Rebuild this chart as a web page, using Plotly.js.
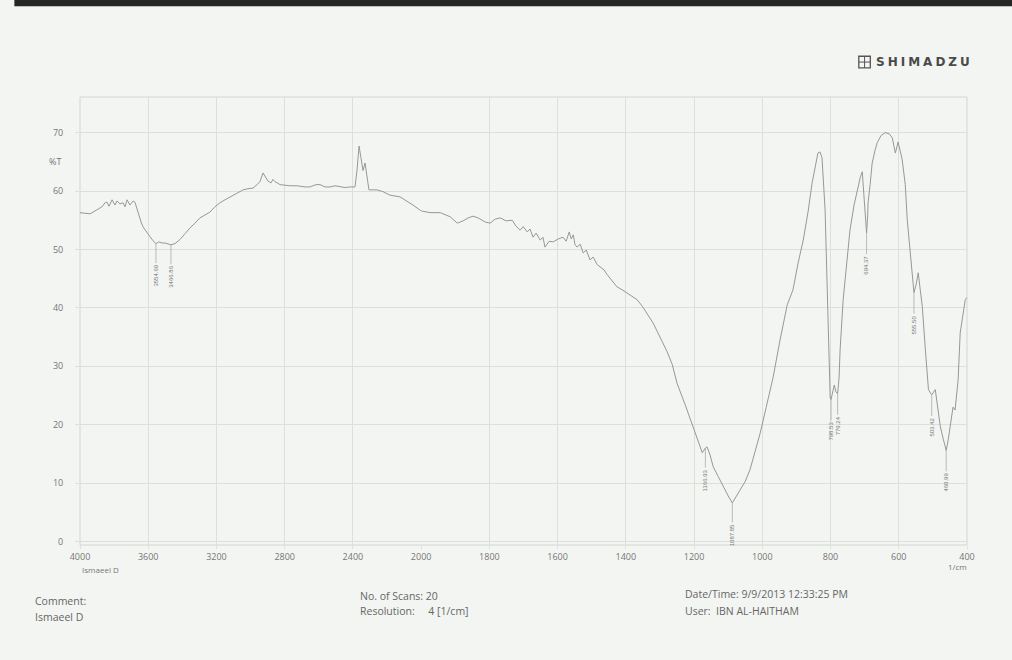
<!DOCTYPE html>
<html>
<head>
<meta charset="utf-8">
<script src="https://cdn.plot.ly/plotly-3.0.1.min.js"></script>
<style>
  html, body { margin: 0; padding: 0; background: #f3f5f2; }
  #chart { width: 1012px; height: 660px; }
</style>
</head>
<body>
<div id="chart"></div>
<script>
// FTIR transmittance spectrum, %T against wavenumber (1/cm).
// The 4000-2000 band and the 2000-400 band are drawn on two x axes
// so that the lower band gets twice the scale per wavenumber.

// 4000 - 2000 1/cm
const wnHigh = [4000, 3941, 3900, 3871, 3853, 3842, 3830, 3812, 3795, 3783, 3766, 3748, 3736, 3724,
  3707, 3689, 3678, 3660, 3642, 3631, 3607, 3590, 3572, 3554.69, 3537, 3519, 3502, 3484, 3466.86,
  3443, 3414, 3384, 3355, 3326, 3297, 3267, 3238, 3209, 3179, 3150, 3121, 3080, 3044, 3015, 2986,
  2962, 2945, 2927, 2909, 2898, 2880, 2869, 2857, 2827, 2769, 2728, 2681, 2652, 2616, 2593, 2564,
  2534, 2505, 2476, 2447, 2417, 2388, 2376, 2364, 2353, 2341, 2329, 2317, 2306, 2282, 2259, 2224,
  2183, 2124, 2083, 2048, 2000];
const tHigh = [56.3, 56.1, 56.8, 57.3, 58.0, 58.1, 57.4, 58.5, 57.6, 58.3, 57.8, 58.0, 57.3, 58.5,
  57.6, 58.3, 58.1, 56.3, 54.7, 53.9, 52.8, 52.2, 51.5, 51.0, 51.3, 51.1, 51.1, 50.9, 50.8,
  51.0, 51.7, 52.7, 53.7, 54.5, 55.4, 55.9, 56.4, 57.3, 58.0, 58.5, 59.0, 59.7, 60.2, 60.4, 60.5,
  61.1, 61.6, 63.1, 62.2, 61.7, 61.4, 62.0, 61.6, 61.1, 60.9, 60.9, 60.7, 60.7, 61.1, 61.1, 60.7,
  60.7, 60.9, 60.7, 60.6, 60.7, 60.7, 63.6, 67.7, 65.7, 63.5, 64.8, 61.9, 60.2, 60.2, 60.2, 59.9,
  59.3, 59.0, 58.3, 57.6, 56.6];

// 2000 - 400 1/cm
const wnLow = [2000, 1974, 1944, 1915, 1894, 1877, 1862, 1848, 1833, 1812, 1798, 1783, 1768, 1751,
  1733, 1722, 1710, 1701, 1689, 1681, 1672, 1663, 1651, 1643, 1637, 1625, 1613, 1598, 1584, 1575,
  1566, 1560, 1554, 1549, 1543, 1534, 1525, 1516, 1505, 1496, 1484, 1475, 1464, 1455, 1440, 1426,
  1411, 1396, 1382, 1367, 1352, 1338, 1320, 1300, 1279, 1264, 1250, 1226, 1203, 1188, 1176,
  1166.93, 1162, 1153, 1144, 1129, 1115, 1100, 1087.85, 1077, 1065, 1050, 1036, 1021, 1006, 989,
  968, 948, 927, 910, 895, 880, 866, 854, 845, 837, 831, 825, 816, 810, 807, 804, 801, 798.53, 792,
  789, 784, 779.24, 775, 772, 763, 754, 743, 731, 722, 713, 707, 704, 701, 694.37, 691, 690, 684,
  678, 669, 663, 652, 640, 628, 619, 610, 602, 590, 581, 575, 566, 560, 555.50, 549, 543, 537, 531,
  522, 513, 507, 503.42, 493, 484, 478, 469, 460.99, 455, 449, 441, 435, 426, 420, 411, 405, 400];
const tLow = [56.6, 56.3, 56.3, 55.6, 54.5, 54.9, 55.4, 55.7, 55.4, 54.7, 54.5, 55.2, 55.4, 54.9,
  55.0, 54.0, 53.3, 53.9, 53.0, 53.5, 52.1, 52.8, 51.6, 52.1, 50.4, 51.4, 51.3, 51.8, 52.1, 51.4,
  53.0, 51.8, 52.5, 50.8, 50.4, 50.9, 49.4, 49.9, 48.2, 48.7, 47.4, 47.0, 46.5, 45.7, 44.6, 43.6,
  43.1, 42.5, 42.0, 41.4, 40.3, 39.1, 37.4, 35.0, 32.5, 30.3, 27.1, 23.4, 19.6, 17.1, 15.2,
  16.0, 16.2, 14.8, 12.8, 11.1, 9.4, 7.8, 6.6, 7.6, 8.8, 10.3, 12.3, 15.4, 18.6, 22.9,
  28.2, 34.5, 40.5, 43.1, 47.7, 51.6, 56.4, 61.4, 64.1, 66.5, 66.7, 65.7, 56.8, 43.1, 36.3, 27.3, 24.6, 24.3, 26.3,
  26.8, 25.6, 25.3, 28.0, 32.8, 41.4, 47.3, 53.3, 57.6, 60.2, 62.3, 63.3, 61.1, 58.0, 52.8, 55.9, 58.0, 61.1,
  64.8, 67.1, 68.3, 69.5, 70.0, 69.8, 69.1, 66.5, 68.4, 65.4, 61.1, 55.0, 49.1, 44.8, 42.6, 44.0, 46.0, 43.1, 40.2,
  32.8, 26.0, 25.4, 25.1, 26.0, 22.6, 19.6, 17.4, 15.6, 17.4, 19.6, 23.0, 22.5, 27.7, 35.7, 38.8, 41.4, 41.8];

// Picked absorption bands (1/cm)
const peakWn = [3554.69, 3466.86, 1166.93, 1087.85, 798.53, 779.24, 694.37, 555.50, 503.42, 460.99];

const ticksHigh = [4000, 3600, 3200, 2800, 2400];
const ticksLow = [2000, 1800, 1600, 1400, 1200, 1000, 800, 600, 400];
const ticksT = [0, 10, 20, 30, 40, 50, 60, 70];

const lineColor = '#979797';
const gridColor = '#dcdfdb';
const tickFont = { family: 'Open Sans, Liberation Sans, sans-serif', size: 9, color: '#757575' };
const infoFont = { family: 'Open Sans, Liberation Sans, sans-serif', size: 10.5, color: '#666' };

const traces = [
  { x: wnHigh, y: tHigh, xaxis: 'x', yaxis: 'y', type: 'scatter', mode: 'lines',
    line: { color: lineColor, width: 1 }, hoverinfo: 'skip' },
  { x: wnLow, y: tLow, xaxis: 'x2', yaxis: 'y', type: 'scatter', mode: 'lines',
    line: { color: lineColor, width: 1 }, hoverinfo: 'skip' }
];

// look up the %T at a picked wavenumber
function tAt(wn) {
  let i = wnHigh.indexOf(wn);
  if (i >= 0) return { y: tHigh[i], ref: 'x' };
  i = wnLow.indexOf(wn);
  return { y: tLow[i], ref: 'x2' };
}

const annotations = peakWn.map(wn => {
  const p = tAt(wn);
  return {
    x: wn, y: p.y, xref: p.ref, yref: 'y',
    text: wn.toFixed(2), textangle: -90,
    font: { family: 'Liberation Sans, sans-serif', size: 6, color: '#777' },
    showarrow: true, arrowhead: 0, arrowwidth: 0.7, arrowcolor: '#a0a0a0',
    ax: 0, ay: 32, standoff: 0
  };
});

function note(text, x, y, font, anchor) {
  return { text, x, y, xref: 'paper', yref: 'paper', showarrow: false,
    xanchor: anchor || 'left', yanchor: 'middle', font };
}

annotations.push(
  note('%T', -0.028, 0.857, tickFont, 'center'),
  note('Ismaeel D', 0.0, -0.054, { ...tickFont, size: 8 }),
  note('1/cm', 0.989, -0.047, { ...tickFont, size: 8 }, 'center'),
  note('Comment:', -0.053, -0.125, infoFont),
  note('Ismaeel D', -0.053, -0.161, infoFont),
  note('No. of Scans: 20', 0.3134, -0.114, infoFont),
  note('Resolution:\u00a0\u00a0\u00a0\u00a0 4 [1/cm]', 0.3134, -0.147, infoFont),
  note('Date/Time: 9/9/2013 12:33:25 PM', 0.6798, -0.109, infoFont),
  note('User:\u00a0\u00a0IBN AL-HAITHAM', 0.6798, -0.147, infoFont),
  note('S\u2005H\u2005I\u2005M\u2005A\u2005D\u2005Z\u2005U', 0.895, 1.078,
    { family: 'DejaVu Sans, sans-serif', size: 12, color: '#4a4a4a', weight: 'bold' })
);

const shapes = [
  // plot frame
  { type: 'rect', xref: 'paper', yref: 'paper', x0: 0, x1: 1, y0: 0, y1: 1,
    line: { color: '#d2d5d1', width: 1 }, layer: 'below' },
  // logo square
  { type: 'rect', xref: 'paper', yref: 'paper', x0: 0.878, x1: 0.891, y0: 1.065, y1: 1.091,
    line: { color: '#555', width: 1.3 } },
  { type: 'line', xref: 'paper', yref: 'paper', x0: 0.8845, x1: 0.8845, y0: 1.065, y1: 1.091,
    line: { color: '#555', width: 1 } },
  { type: 'line', xref: 'paper', yref: 'paper', x0: 0.878, x1: 0.891, y0: 1.078, y1: 1.078,
    line: { color: '#555', width: 1 } },
  // dark page edge along the top
  { type: 'rect', xref: 'paper', yref: 'paper', x0: -0.074, x1: 1.06, y0: 1.2025, y1: 1.23,
    fillcolor: '#262626', line: { width: 0 } }
];

const xCommon = {
  showgrid: true, gridcolor: gridColor, gridwidth: 1, zeroline: false,
  showline: false, ticks: 'outside', ticklen: 3, tickcolor: gridColor,
  tickfont: tickFont, fixedrange: true, anchor: 'y'
};

const layout = {
  width: 1012, height: 660,
  margin: { l: 80, r: 45, t: 97, b: 115 },
  paper_bgcolor: '#f3f5f2', plot_bgcolor: '#f3f5f2',
  showlegend: false,
  xaxis: { ...xCommon, domain: [0, 5 / 13], range: [4000, 2000],
    tickmode: 'array', tickvals: ticksHigh, ticktext: ticksHigh.map(String) },
  xaxis2: { ...xCommon, domain: [5 / 13, 1], range: [2000, 400],
    tickmode: 'array', tickvals: ticksLow, ticktext: ticksLow.map(String) },
  yaxis: {
    range: [-0.6, 76.1], tickmode: 'array', tickvals: ticksT, ticktext: ticksT.map(String),
    showgrid: true, gridcolor: gridColor, zeroline: false, showline: false,
    ticks: 'outside', ticklen: 4, tickcolor: gridColor, ticklabelstandoff: 10,
    tickfont: tickFont, fixedrange: true, anchor: 'x'
  },
  annotations, shapes
};

Plotly.newPlot('chart', traces, layout, { displayModeBar: false, staticPlot: true });
</script>
</body>
</html>
